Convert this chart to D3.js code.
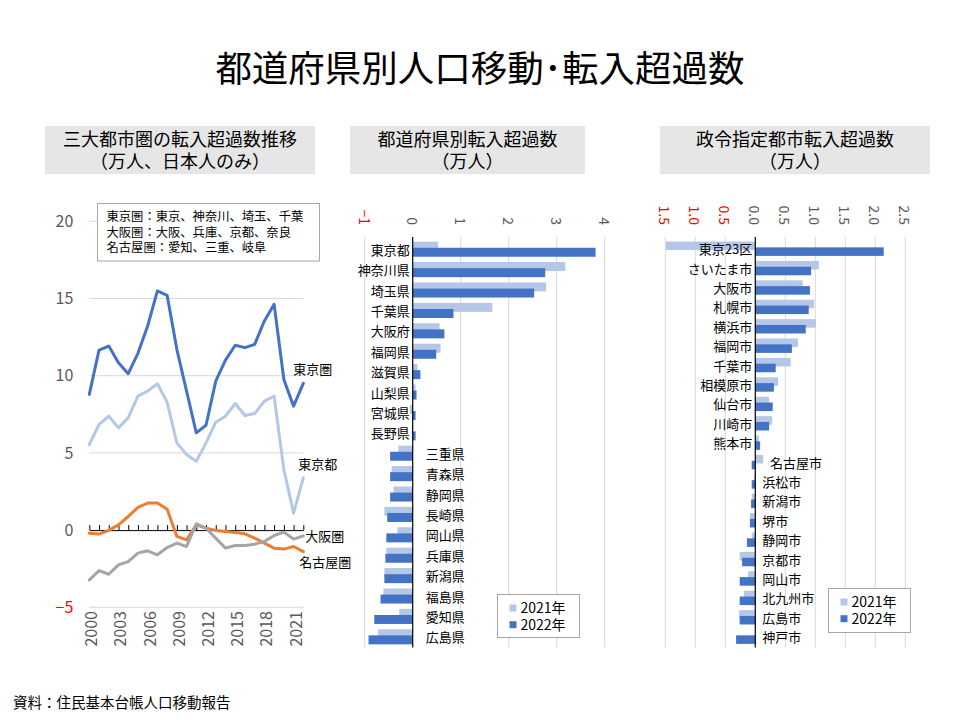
<!DOCTYPE html>
<html><head><meta charset="utf-8">
<script src="https://cdn.jsdelivr.net/npm/d3@7"></script>
<style>body{margin:0;background:#fff;} svg{display:block;font-family:"Noto Sans CJK JP","Noto Sans",sans-serif;}</style>
</head><body>
<script>
// ---- Data ----
const years = [2000,2001,2002,2003,2004,2005,2006,2007,2008,2009,2010,2011,2012,2013,2014,2015,2016,2017,2018,2019,2020,2021,2022];
const yearLabels = [2000,2003,2006,2009,2012,2015,2018,2021];
const tokyoArea  = [8.79,11.66,11.92,10.84,10.13,11.45,13.22,15.49,15.21,11.71,9.0,6.30,6.79,9.65,11.01,11.97,11.82,12.03,13.55,14.63,9.76,8.03,9.5];
const tokyoMetro = [5.54,6.84,7.38,6.62,7.27,8.68,9.0,9.48,8.29,5.65,4.89,4.45,5.65,6.99,7.38,8.2,7.42,7.55,8.35,8.68,3.92,1.1,3.38];
const nagoyaArea = [-0.2,-0.26,-0.02,0.34,0.88,1.47,1.75,1.75,1.36,-0.41,-0.63,0.34,0.13,-0.02,-0.09,-0.15,-0.24,-0.52,-0.84,-1.17,-1.23,-1.06,-1.39];
const osakaArea  = [-3.23,-2.62,-2.86,-2.25,-2.04,-1.49,-1.34,-1.6,-1.13,-0.84,-1.06,0.41,0.13,-0.52,-1.17,-1.0,-1.0,-0.91,-0.74,-0.35,-0.13,-0.58,-0.37];
const leftTicks = [-5,0,5,10,15,20];

const prefectures = ['東京都','神奈川県','埼玉県','千葉県','大阪府','福岡県','滋賀県','山梨県','宮城県','長野県','三重県','青森県','静岡県','長崎県','岡山県','兵庫県','新潟県','福島県','愛知県','広島県'];
const pref2021 = [0.53,3.18,2.78,1.66,0.56,0.58,0.10,0.06,-0.06,-0.02,-0.30,-0.44,-0.40,-0.59,-0.32,-0.55,-0.59,-0.61,-0.28,-0.72];
const pref2022 = [3.81,2.76,2.53,0.85,0.66,0.49,0.16,0.08,0.06,0.06,-0.47,-0.47,-0.47,-0.53,-0.55,-0.57,-0.59,-0.67,-0.80,-0.92];
const prefTicks = [-1,0,1,2,3,4];

const cities = ['東京23区','さいたま市','大阪市','札幌市','横浜市','福岡市','千葉市','相模原市','仙台市','川崎市','熊本市','名古屋市','浜松市','新潟市','堺市','静岡市','京都市','岡山市','北九州市','広島市','神戸市'];
const city2021 = [-1.49,1.06,0.79,0.98,1.01,0.71,0.59,0.38,0.23,0.28,0.06,0.13,-0.02,-0.06,-0.09,-0.06,-0.26,-0.12,-0.19,-0.27,0];
const city2022 = [2.14,0.93,0.91,0.89,0.84,0.61,0.34,0.31,0.29,0.23,0.08,-0.06,-0.06,-0.07,-0.09,-0.14,-0.22,-0.26,-0.26,-0.26,-0.32];
const cityTicks = [-1.5,-1.0,-0.5,0,0.5,1.0,1.5,2.0,2.5];

const legendYears = ['2021年','2022年'];
const noteLines = ['東京圏：東京、神奈川、埼玉、千葉','大阪圏：大阪、兵庫、京都、奈良','名古屋圏：愛知、三重、岐阜'];

const C_DARK = '#4472C4', C_LIGHT = '#B4C7E7', C_ORANGE = '#ED7D31', C_GRAY = '#A5A5A5';
const GRID = '#D9D9D9', TXT = '#595959';

const svg = d3.select('body').append('svg').attr('width',960).attr('height',720);

// multi-line text as one element
function multiText(parent,x,y,lines,lh,size,anchor){
  const t = parent.append('text').attr('x',x).attr('y',y).attr('font-size',size)
    .attr('fill','#000').attr('text-anchor',anchor||'start');
  lines.forEach((l,i)=>t.append('tspan').attr('x',x).attr('dy',i===0?0:lh).text(l));
  return t;
}

// Title
svg.append('text').attr('x',480).attr('y',82).attr('text-anchor','middle')
  .attr('font-size',36.5).attr('fill','#000').text('都道府県別人口移動･転入超過数');
// Footer
svg.append('text').attr('x',13).attr('y',708).attr('font-size',14.5).attr('fill','#000').text('資料：住民基本台帳人口移動報告');

// Headers
function header(x0,x1,l1,l2){
  svg.append('rect').attr('x',x0).attr('y',126).attr('width',x1-x0).attr('height',48).attr('fill','#E7E6E6');
  multiText(svg,(x0+x1)/2,146,[l1,l2],21.5,18,'middle');
}
header(45,315,'三大都市圏の転入超過数推移','（万人、日本人のみ）');
header(350,585,'都道府県別転入超過数','（万人）');
header(660,930,'政令指定都市転入超過数','（万人）');

// ---- Left chart ----
const xL = d3.scalePoint().domain(years).range([89.3,303.3]);
const yL = d3.scaleLinear().domain([-5,20]).range([607.3,221.3]);
const gL = svg.append('g');
gL.selectAll('line.grid').data(leftTicks.filter(v=>v!==0)).join('line')
  .attr('x1',xL(2000)).attr('x2',xL(2022)).attr('y1',d=>yL(d)).attr('y2',d=>yL(d))
  .attr('stroke',GRID).attr('stroke-width',1);
const yAx = gL.append('g').attr('transform',`translate(${xL(2000)},0)`)
  .call(d3.axisLeft(yL).tickValues(leftTicks).tickSize(0).tickPadding(16));
yAx.select('.domain').remove();
yAx.selectAll('text').attr('font-size',16).attr('font-family','"Noto Sans CJK JP",sans-serif')
  .attr('fill',d=>d<0?'#FF0000':TXT);
const xAx = gL.append('g').attr('transform',`translate(0,${yL(0)})`)
  .call(d3.axisTop(xL).tickSizeInner(5).tickSizeOuter(0).tickFormat(''));
xAx.select('.domain').attr('stroke','#000');
xAx.selectAll('.tick line').attr('stroke','#000');
gL.selectAll('text.xl').data(yearLabels).join('text')
  .attr('transform',d=>`translate(${xL(d)+1},611) rotate(-90)`)
  .attr('text-anchor','end').attr('dominant-baseline','central')
  .attr('font-size',16).attr('fill',TXT).text(d=>d);

const line = d3.line().x((d,i)=>xL(years[i])).y(d=>yL(d));
[[tokyoArea,C_DARK],[tokyoMetro,C_LIGHT],[nagoyaArea,C_ORANGE],[osakaArea,C_GRAY]].forEach(([s,c])=>{
  gL.append('path').datum(s).attr('d',line).attr('fill','none').attr('stroke',c)
    .attr('stroke-width',3).attr('stroke-linejoin','round').attr('stroke-linecap','round');
});
// series labels
const last = xL(2022);
[['東京圏',last-10,374],['東京都',last-5,469],['大阪圏',last+2,541],['名古屋圏',last-4,567]].forEach(([t,x,y])=>{
  gL.append('text').attr('x',x).attr('y',y).attr('font-size',13).attr('fill','#000').text(t);
});
// note box
gL.append('rect').attr('x',97.5).attr('y',203.5).attr('width',222).attr('height',57.5)
  .attr('fill','#fff').attr('stroke','#A6A6A6').attr('stroke-width',1);
multiText(gL,106.5,221,noteLines,15.7,12.3);

// ---- Bar chart helper ----
function barChart(opts){
  const {cats,v1,v2,ticks,x0,x1,yTop,yBot,negGap,fmt,legend} = opts;
  const x = d3.scaleLinear().domain([ticks[0],ticks[ticks.length-1]]).range([x0,x1]);
  const y = d3.scaleBand().domain(cats).range([yTop,yBot]);
  const bw = y.bandwidth();
  const bh = bw*0.44, off1 = bw*0.13, off2 = bw*0.43;
  const g = svg.append('g');
  g.selectAll('line.grid').data(ticks.filter(t=>t!==0)).join('line')
    .attr('x1',d=>x(d)).attr('x2',d=>x(d)).attr('y1',237).attr('y2',647.5)
    .attr('stroke',GRID).attr('stroke-width',1);
  g.selectAll('text.tk').data(ticks).join('text')
    .attr('transform',d=>`translate(${x(d)},225) rotate(90)`)
    .attr('text-anchor','end').attr('dominant-baseline','central')
    .attr('font-size',14).attr('fill',d=>d<0?'#FF0000':TXT).text(fmt);
  const rows = cats.map((c,i)=>({c,a:v1[i],b:v2[i]}));
  g.selectAll('rect.a').data(rows).join('rect')
    .attr('x',d=>x(Math.min(0,d.a))).attr('width',d=>Math.abs(x(d.a)-x(0)))
    .attr('y',d=>y(d.c)+off1).attr('height',bh).attr('fill',C_LIGHT);
  g.selectAll('rect.b').data(rows).join('rect')
    .attr('x',d=>x(Math.min(0,d.b))).attr('width',d=>Math.abs(x(d.b)-x(0)))
    .attr('y',d=>y(d.c)+off2).attr('height',bh).attr('fill',C_DARK);
  g.append('line').attr('x1',x(0)).attr('x2',x(0)).attr('y1',237).attr('y2',647.5)
    .attr('stroke','#000').attr('stroke-width',1.2);
  g.selectAll('text.cat').data(rows).join('text')
    .attr('x',d=>d.b>=0 ? x(0)-3 : x(Math.max(0,d.a))+negGap)
    .attr('text-anchor',d=>d.b>=0?'end':'start')
    .attr('y',d=>y(d.c)+bw/2).attr('dominant-baseline','central')
    .attr('font-size',13).attr('fill','#000').text(d=>d.c);
  // legend
  const [lx,ly,lw,lh] = legend;
  g.append('rect').attr('x',lx).attr('y',ly).attr('width',lw).attr('height',lh)
    .attr('fill','#fff').attr('stroke','#A6A6A6');
  [C_LIGHT,C_DARK].forEach((c,i)=>{
    g.append('rect').attr('x',lx+12).attr('y',ly+10+i*16.7).attr('width',7).attr('height',7).attr('fill',c);
  });
  multiText(g,lx+23,ly+18.5,legendYears,16.7,14);
}
barChart({cats:prefectures,v1:pref2021,v2:pref2022,ticks:prefTicks,x0:364.7,x1:604.7,yTop:239,yBot:647,
  negGap:13,fmt:d=>d3.format('d')(d),legend:[497.5,594.5,82,43]});
barChart({cats:cities,v1:city2021,v2:city2022,ticks:cityTicks,x0:665.3,x1:905.3,yTop:239,yBot:646.4,
  negGap:7,fmt:d=>d3.format('.1f')(Math.abs(d)),legend:[828.5,588.5,82,44]});
</script>
</body></html>
